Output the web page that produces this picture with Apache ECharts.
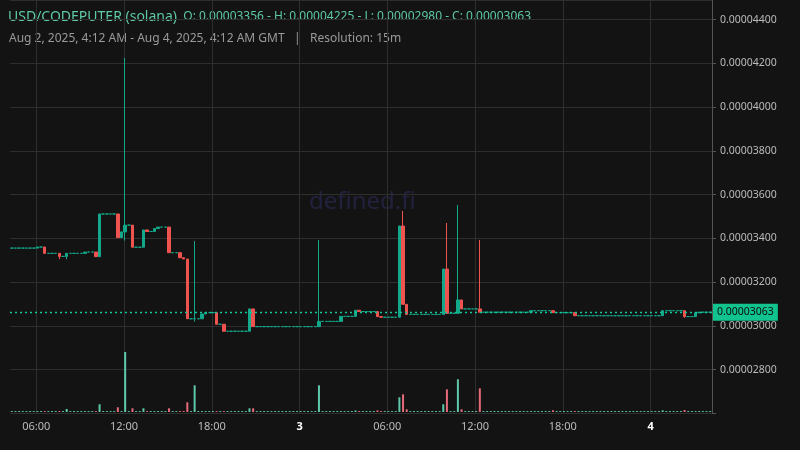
<!DOCTYPE html>
<html><head><meta charset="utf-8">
<script src="https://cdn.jsdelivr.net/npm/echarts@6/dist/echarts.min.js"></script>
<style>html,body{margin:0;background:#131313}#c{width:800px;height:450px}</style>
</head><body><div id="c"></div>
<script>
// closes per 15m bar (units of 1e-8), starting Aug 2 04:12 GMT
const closes = [
3356,3356,3356,3356,3356,3356,3356,3361,3361,3332, 3332,3332,3332,3318,3318,3332,3332,3332,3332,3332,
3338,3338,3338,3317,3512,3512,3512,3512,3512,3404, 3430,3461,3461,3360,3360,3360,3439,3432,3432,3445,
3452,3452,3452,3335,3335,3335,3312,3306,3033,3033, 3033,3033,3055,3061,3061,3061,3008,3008,2976,2976,
2976,2976,2976,2976,2976,3078,2997,2997,2997,2997, 2997,2997,2997,2997,2997,2997,2997,2997,2997,2997,
2997,2997,2997,2997,3021,3021,3021,3021,3021,3021, 3044,3044,3044,3044,3072,3066,3066,3066,3066,3066,
3043,3040,3040,3040,3040,3040,3457,3099,3053,3053, 3053,3053,3053,3053,3053,3053,3053,3053,3260,3058,
3058,3058,3119,3078,3078,3078,3078,3078,3063,3063, 3063,3063,3063,3063,3063,3063,3063,3063,3063,3063,
3063,3063,3070,3070,3070,3070,3070,3070,3061,3061, 3061,3061,3061,3061,3047,3047,3047,3047,3047,3047,
3047,3047,3047,3047,3047,3047,3047,3047,3047,3047, 3047,3047,3047,3047,3047,3047,3047,3047,3070,3070,
3070,3070,3070,3070,3043,3043,3043,3060,3063,3063, 3063,3063];
const firstOpen = 3356;
// wick extremes: [index, high, low]
const wicks = [[13,3332,3305],[15,3332,3305],[31,4225,3390],[50,3388,3020],[84,3393,2997],[107,3526,3099],[119,3471,3058],[122,3553,3058],[128,3393,3063],[184,3070,3037]];
// volumes (relative), [index, value]
const volumes = [[15,3],[24,7.7],[29,4.7],[31,60],[33,3.7],[36,3.7],[43,3.7],[48,9.7],[50,26.7],[65,3.7],[66,3.7],[84,26.7],[94,1.5],[100,1.6],[106,14.7],[107,17.7],[108,2.7],[118,7.7],[119,22.7],[122,32.7],[123,2.7],[128,23.7],[148,1.7],[178,1.7],[184,2]];
const xTicks = [6,12,18,24,30,36,42,48];
const yTicks = [2800,3000,3200,3400,3600,3800,4000,4200,4400];
const lastPrice = 3063;

const UP='#13a88a', DN='#ef5350';
const startH = 4.2, step = 0.25;
const candles = [], vols = [];
const vmap = {}; volumes.forEach(v=>vmap[v[0]]=v[1]);
const wmap = {}; wicks.forEach(w=>wmap[w[0]]=w);
closes.forEach((c,i)=>{
  const o = i===0?firstOpen:closes[i-1];
  let h=Math.max(o,c), l=Math.min(o,c);
  if(wmap[i]){h=Math.max(h,wmap[i][1]);l=Math.min(l,wmap[i][2]);}
  const x = startH+step*i+step/2;
  candles.push([x,o,c,l,h]);
  vols.push({value:[x, vmap[i]!==undefined?vmap[i]:0.9], itemStyle:{color: c<o?'#e56a7a':'#5fc8ab'}});
});
const fmt=v=>(v*1e-8).toFixed(8);
const chart = echarts.init(document.getElementById('c'));
const xCommon = {type:'value',min:startH,max:startH+48,
  axisTick:{show:false,customValues:xTicks}, axisLine:{show:false}};
chart.setOption({
  backgroundColor:'#131313', animation:false,
  grid:[{left:10,right:88,top:0,bottom:36.5},{left:10,right:88,top:352,bottom:38}],
  xAxis:[Object.assign({gridIndex:0,
     splitLine:{show:true,lineStyle:{color:'#2e2e2e'}},
     axisLabel:{customValues:xTicks,color:'#bbb',fontSize:11,fontFamily:'Noto Sans',margin:8,
       formatter:v=>{if(v%24===0)return '{b|'+(2+v/24)+'}';return String(v%24).padStart(2,'0')+':00';},
       rich:{b:{fontWeight:'bold',color:'#fff',fontSize:11}}}},xCommon),
     Object.assign({gridIndex:1,axisLabel:{show:false},splitLine:{show:false}},xCommon)],
  yAxis:[{type:'value',gridIndex:0,position:'right',min:2600,max:4490,interval:200,
     axisLine:{show:true,lineStyle:{color:'#555'}},axisTick:{show:true,length:4,lineStyle:{color:'#555'}},
     splitLine:{lineStyle:{color:'#2e2e2e'}},
     axisLabel:{formatter:v=>v===2600?'':fmt(v),color:'#bbb',fontSize:10.5,fontFamily:'Noto Sans',margin:8,showMaxLabel:false}},
    {type:'value',gridIndex:1,min:0,max:60,show:false}],
  series:[
   {type:'candlestick',xAxisIndex:0,yAxisIndex:0,data:candles,encode:{x:0,y:[1,2,3,4]},barWidth:3,
    itemStyle:{color:UP,color0:DN,borderColor:UP,borderColor0:DN,borderWidth:1},
    markLine:{symbol:'none',silent:true,data:[{yAxis:lastPrice}],
      lineStyle:{color:'#16c79a',type:[2,3],width:1.3},
      label:{position:'end',formatter:fmt(lastPrice),backgroundColor:'#10c38f',color:'#0b0b0b',
        fontSize:10.5,fontFamily:'Noto Sans',padding:[3,4],distance:1}}},
   {type:'bar',xAxisIndex:1,yAxisIndex:1,data:vols,barWidth:2}
  ],
  graphic:[
   {type:'text',left:8,top:10,style:{text:'{a|USD/CODEPUTER (solana)}{b|  O: 0.00003356 - H: 0.00004225 - L: 0.00002980 - C: 0.00003063}',
     rich:{a:{fontSize:14,fill:'#5fcaa6',fontFamily:'Noto Sans'},b:{fontSize:12,fill:'#5fcaa6',fontFamily:'Noto Sans'}}}},
   {type:'text',left:9,top:33,style:{text:'Aug 2, 2025, 4:12 AM - Aug 4, 2025, 4:12 AM GMT   |   Resolution: 15m',fontSize:12,fill:'#9a9a9a',fontFamily:'Noto Sans'}},
   {type:'text',left:309,top:190,style:{text:'defined.fi',fontSize:24,fill:'#22223e',fontFamily:'Noto Sans'}}
  ]
});
</script></body></html>
